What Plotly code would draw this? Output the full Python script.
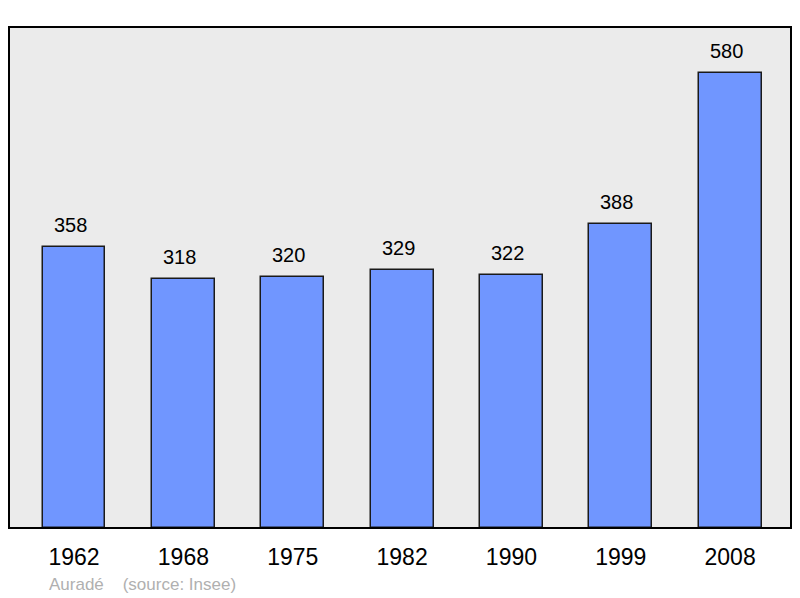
import plotly.graph_objects as go

years = ["1962", "1968", "1975", "1982", "1990", "1999", "2008"]
population = [358, 318, 320, 329, 322, 388, 580]
footer = "Auradé    (source: Insee)"

xs = list(range(len(years)))

fig = go.Figure()
fig.add_trace(go.Bar(
    x=xs, y=population, width=0.575,
    marker=dict(color="#7096ff", line=dict(color="#1a1a1a", width=1.5)),
    hoverinfo="skip",
))

for x, v in zip(xs, population):
    fig.add_annotation(x=x, y=v, text=str(v), showarrow=False, yanchor="middle",
                       yshift=22, xshift=-4,
                       font=dict(family="Liberation Sans, Arial", size=20, color="#000"))

fig.add_annotation(xref="paper", yref="paper", x=(47-9)/782, y=-(584-528)/501,
                   xanchor="left", yanchor="middle", showarrow=False, text=footer,
                   font=dict(family="Liberation Sans, Arial", size=17, color="#b0b0b0"))

fig.add_shape(type="rect", xref="paper", yref="paper", x0=0, y0=0, x1=1, y1=1,
              line=dict(color="#000", width=2), layer="above")

fig.update_layout(
    width=800, height=598,
    margin=dict(l=9, r=9, t=27, b=70),
    paper_bgcolor="#ffffff", plot_bgcolor="#ebebeb",
    showlegend=False, bargap=0,
    xaxis=dict(range=[-0.595, 6.557], tickmode="array", tickvals=xs, ticktext=years,
               showgrid=False, zeroline=False, showline=False, ticks="",
               tickfont=dict(family="Liberation Sans, Arial", size=23, color="#000"), ticklabelstandoff=13),
    yaxis=dict(range=[0, 638.6], showgrid=False, zeroline=False, showticklabels=False, showline=False),
)

fig.write_html("out.html", config={"displayModeBar": False},
               post_script="document.body.style.margin='0';")
